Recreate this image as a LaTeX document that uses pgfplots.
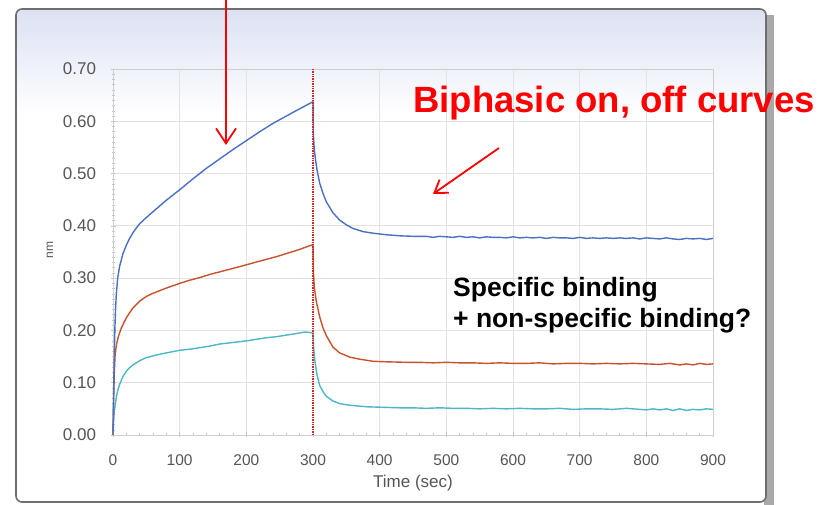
\documentclass[border=0pt]{standalone}
\usepackage{pgfplots}
\pgfplotsset{compat=1.18}
\usepackage{fontspec}
\setmainfont{Liberation Sans}
\usetikzlibrary{arrows.meta}

\definecolor{frameedge}{HTML}{6E6E6E}
\definecolor{frameshadow}{HTML}{A9A9A9}
\definecolor{topshade}{HTML}{DCE1F3}
\definecolor{ticktext}{HTML}{555555}
\definecolor{gridc}{HTML}{E3E3E3}
\definecolor{seriesblue}{HTML}{4A70C0}
\definecolor{seriesred}{HTML}{C8522E}
\definecolor{seriescyan}{HTML}{4CB8C6}
\definecolor{markerred}{HTML}{D02828}

\begin{document}
\begin{tikzpicture}[x=1pt,y=1pt]
\useasboundingbox (0pt,0pt) rectangle (837pt,505pt);

% window frame with drop shadow and pale top gradient
\fill[frameshadow] (764pt,0pt) rectangle (774pt,490pt);
\fill[white, rounded corners=6pt] (16pt,3pt) rectangle (766pt,496pt);
\begin{scope}
  \clip[rounded corners=6pt] (16pt,3pt) rectangle (766pt,496pt);
  \shade[top color=topshade, bottom color=white] (16pt,390pt) rectangle (766pt,496pt);
\end{scope}
\draw[frameedge, line width=1.6pt, rounded corners=6pt] (16pt,3pt) rectangle (766pt,496pt);

\begin{axis}[
  at={(113pt,70pt)}, anchor=south west,
  scale only axis, width=600pt, height=366pt,
  xmin=0, xmax=900, ymin=0, ymax=0.70,
  xtick={0,100,...,900},
  ytick={0,0.1,0.2,0.3,0.4,0.5,0.6,0.7},
  minor x tick num=4, minor y tick num=9,
  tick pos=left, tick align=center,
  major tick length=5pt, minor tick length=3pt,
  every tick/.style={gridc!70!gray, line width=0.5pt},
  grid=major, major grid style={gridc, line width=0.8pt},
  axis line style={draw=gridc!80!gray, line width=0.8pt},
  tick label style={text=ticktext},
  /pgf/number format/assume math mode=true,
  yticklabel style={/pgf/number format/fixed, /pgf/number format/fixed zerofill,
    /pgf/number format/precision=2, xshift=-11pt, font=\fontsize{17}{17}\selectfont},
  xticklabel style={yshift=-14pt, font=\fontsize{15.5}{16}\selectfont},
  clip=false,
]

% lowest concentration
\addplot[seriescyan, line width=1.4pt] coordinates {
(0,0) (1,0.030) (2,0.045) (3,0.055) (5,0.072) (7,0.085) (10,0.097)
(15,0.112) (20,0.122) (25,0.129) (30,0.134) (40,0.142) (50,0.148) (65,0.153)
(80,0.157) (100,0.162) (115,0.164) (130,0.167) (145,0.170) (160,0.174)
(180,0.177) (200,0.180) (215,0.183) (230,0.186) (245,0.188) (260,0.191)
(275,0.194) (288,0.197) (295,0.196) (300,0.195)
(300.5,0.175) (301,0.165) (303,0.140) (306,0.115) (310,0.095) (315,0.083)
(320,0.074) (330,0.065) (340,0.060) (355,0.057) (380,0.054) (405,0.053)
(430,0.052) (450,0.052) (470,0.051) (490,0.052) (510,0.051) (530,0.051)
(550,0.050) (570,0.051) (590,0.050) (610,0.051) (630,0.050) (650,0.050)
(670,0.051) (690,0.049) (710,0.050) (730,0.050) (750,0.049) (770,0.051)
(790,0.049) (800,0.048) (810,0.050) (820,0.048) (830,0.050) (840,0.047)
(850,0.050) (860,0.047) (870,0.049) (880,0.048) (890,0.050) (900,0.049)
};

% middle concentration
\addplot[seriesred, line width=1.4pt] coordinates {
(0,0) (1,0.070) (2,0.120) (3,0.150) (5,0.172) (8,0.188) (12,0.203)
(16,0.214) (20,0.224) (25,0.234) (30,0.243) (40,0.256) (50,0.265) (60,0.271)
(80,0.281) (100,0.290) (115,0.296) (130,0.301) (145,0.307) (160,0.312)
(175,0.317) (190,0.322) (210,0.329) (230,0.336) (245,0.341) (260,0.347)
(280,0.355) (295,0.362) (300,0.364)
(300.5,0.315) (302,0.282) (305,0.255) (310,0.226) (315,0.205) (320,0.190)
(330,0.168) (340,0.157) (355,0.149) (370,0.145) (390,0.141) (410,0.140)
(440,0.139) (460,0.139) (480,0.138) (500,0.139) (520,0.138) (540,0.138)
(560,0.137) (580,0.138) (600,0.137) (620,0.137) (640,0.138) (660,0.136)
(680,0.137) (700,0.137) (720,0.136) (740,0.137) (760,0.136) (780,0.137)
(800,0.136) (820,0.135) (835,0.137) (850,0.134) (860,0.136) (870,0.134)
(880,0.137) (890,0.135) (900,0.136)
};

% highest concentration
\addplot[seriesblue, line width=1.4pt] coordinates {
(0,0) (1,0.090) (2,0.160) (3,0.210) (4,0.245) (5,0.270) (7,0.300)
(10,0.323) (15,0.347) (20,0.363) (25,0.376) (30,0.387) (35,0.396)
(40,0.404) (50,0.416) (60,0.427) (70,0.438) (80,0.449)
(100,0.469) (120,0.490) (140,0.510) (160,0.528) (180,0.546) (200,0.563)
(220,0.580) (240,0.596) (260,0.610) (280,0.624) (298,0.636) (300,0.637)
(300.5,0.575) (302,0.545) (304,0.525) (306,0.507) (310,0.482) (315,0.462)
(320,0.446) (330,0.425) (340,0.411) (350,0.402) (360,0.395) (375,0.389)
(390,0.386) (410,0.383) (430,0.381) (450,0.380) (470,0.380) (480,0.378)
(490,0.380) (500,0.379) (510,0.378) (520,0.380) (530,0.378) (540,0.379)
(550,0.377) (560,0.379) (570,0.378) (580,0.378) (590,0.377) (600,0.379)
(610,0.377) (620,0.378) (630,0.377) (640,0.378) (650,0.376) (660,0.378)
(670,0.377) (680,0.377) (690,0.376) (700,0.378) (710,0.376) (720,0.377)
(730,0.376) (740,0.377) (750,0.376) (760,0.377) (770,0.376) (780,0.377)
(790,0.375) (800,0.377) (810,0.376) (820,0.375) (830,0.377) (840,0.375)
(850,0.374) (860,0.376) (870,0.375) (880,0.376) (890,0.374) (900,0.376)
};

% association / dissociation switch
\addplot[draw=markerred, densely dotted, line width=1.4pt] coordinates {(300,0) (300,0.70)};
\end{axis}

% axis titles
\node[text=ticktext, font=\fontsize{17}{18}\selectfont] at (413pt,22pt) {Time (sec)};
\node[text=ticktext, font=\fontsize{12}{13}\selectfont, rotate=90] at (50pt,255pt) {nm};

% annotations
\draw[red, line width=1.8pt, -{Straight Barb[length=15pt,width=20pt]}] (226pt,506pt) -- (226pt,360pt);
\draw[red, line width=1.8pt, -{Straight Barb[length=12pt,width=16pt]}] (499pt,357pt) -- (433pt,311pt);
\node[anchor=base west, text=red, font=\fontsize{36.5}{38}\selectfont\bfseries, inner sep=0pt] at (413pt,392pt) {Biphasic on, off curves};
\node[anchor=base west, font=\fontsize{26.5}{28}\selectfont\bfseries, inner sep=0pt] at (453pt,208pt) {Specific binding};
\node[anchor=base west, font=\fontsize{26.5}{28}\selectfont\bfseries, inner sep=0pt] at (453pt,177pt) {+ non-specific binding?};
\end{tikzpicture}
\end{document}
